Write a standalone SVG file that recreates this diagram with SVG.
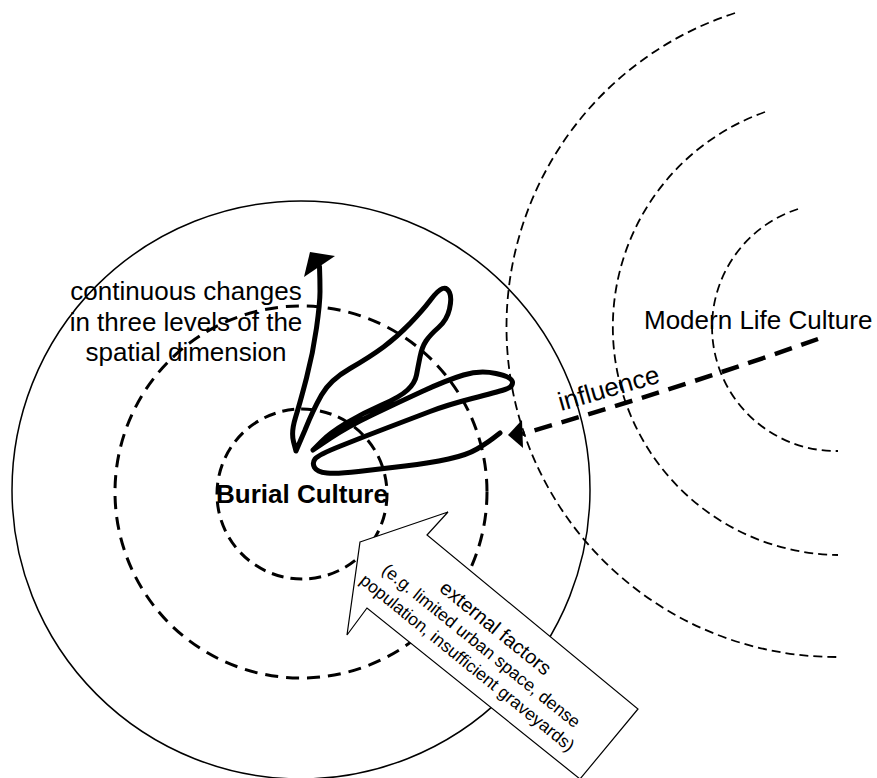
<svg xmlns="http://www.w3.org/2000/svg" width="877" height="778" viewBox="0 0 877 778">
<style>
text{font-family:"Liberation Sans",Arial,sans-serif;fill:#000}
.t26{font-size:26px}
.thin{fill:none;stroke:#000;stroke-width:1.5}
.dash3{fill:none;stroke:#000;stroke-width:3;stroke-dasharray:13 8}
.arc{fill:none;stroke:#000;stroke-width:1.8;stroke-dasharray:9 5}
.thick{fill:none;stroke:#000;stroke-width:5;stroke-linecap:round;stroke-linejoin:round}
</style>
<rect width="877" height="778" fill="#fff"/>
<g id="outer-circle">
<circle class="thin" cx="301" cy="490" r="289"/>
</g>
<g id="spatial-levels">
<circle class="dash3" cx="301" cy="492" r="186"/>
</g>
<g id="burial-culture">
<circle class="dash3" cx="302" cy="494" r="85" style="stroke-dasharray:12 7"/>
<text x="216" y="503" class="t26" font-weight="bold">Burial Culture</text>
</g>
<g id="modern-life">
<path class="arc" d="M735,13 A330,330 0 0 0 838,657"/>
<path class="arc" d="M765,112 A228,228 0 0 0 838,555"/>
<path class="arc" d="M798,209 A124,124 0 0 0 838,451"/>
<text x="644" y="329" class="t26">Modern Life Culture</text>
</g>
<g id="external-factors">
<polygon points="360,542 448,512 427,535 638,709 580,779 367,608 347,635" fill="#fff" stroke="#000" stroke-width="1.2"/>
<g transform="translate(481,646) rotate(39)" text-anchor="middle">
<text x="0" y="-16.5" font-size="20">external factors</text>
<text x="0" y="5.5" font-size="17.5">(e.g. limited urban space, dense</text>
<text x="0" y="27.5" font-size="17.5">population, insufficient graveyards)</text>
</g>
</g>
<g id="changes">
<path class="thick" d="M500,433 L493.5,438 Q487,443 477,449 Q467,455 448.5,459 Q430,463 405,466 Q380,469 358.5,471.5 Q337,474 327,473 Q317,472 314.5,467.5 Q312,463 315,459 Q318,455 340.5,446 Q363,437 388,427.5 Q413,418 430,411.5 Q447,405 472,398.5 Q497,392 505,389.5 Q513,387 512.5,382 Q512,377 496,373.5 Q480,370 463.5,375 Q447,380 422,391.5 Q397,403 372,415 Q347,427 330,438.5 L313,450 L321.5,441.5 Q330,433 346.5,423 Q363,413 381.5,405 Q400,397 407.5,390 Q415,383 416.5,375 Q418,367 420,357 Q422,347 426,341 Q430,335 438.5,327.5 Q447,320 449.5,309 Q452,298 449.5,292.5 Q447,287 442.5,288.5 Q438,290 430.5,300 Q423,310 410,323.5 Q397,337 383.5,347 Q370,357 350,368.5 Q330,380 321.5,395 Q313,410 305,430 L296,451 L293.5,441.5 Q291,432 295.5,417.5 Q300,403 306.5,378 Q313,353 316.5,328 Q320,303 320,291.5 Q320,280 319.5,266.5"/>
<polygon points="310,252 335,256 304,277" fill="#000"/>
<text class="t26" text-anchor="middle"><tspan x="186" y="300">continuous changes</tspan><tspan x="186" y="331">in three levels of the</tspan><tspan x="186" y="361">spatial dimension</tspan></text>
</g>
<g id="connectors">
<path d="M818,339 Q680,388 522,434" fill="none" stroke="#000" stroke-width="4.5" stroke-dasharray="18 10"/>
<polygon points="508,435 522,420 523,448" fill="#000"/>
<text x="561" y="411" class="t26" transform="rotate(-16 561 411)">influence</text>
</g>
</svg>
